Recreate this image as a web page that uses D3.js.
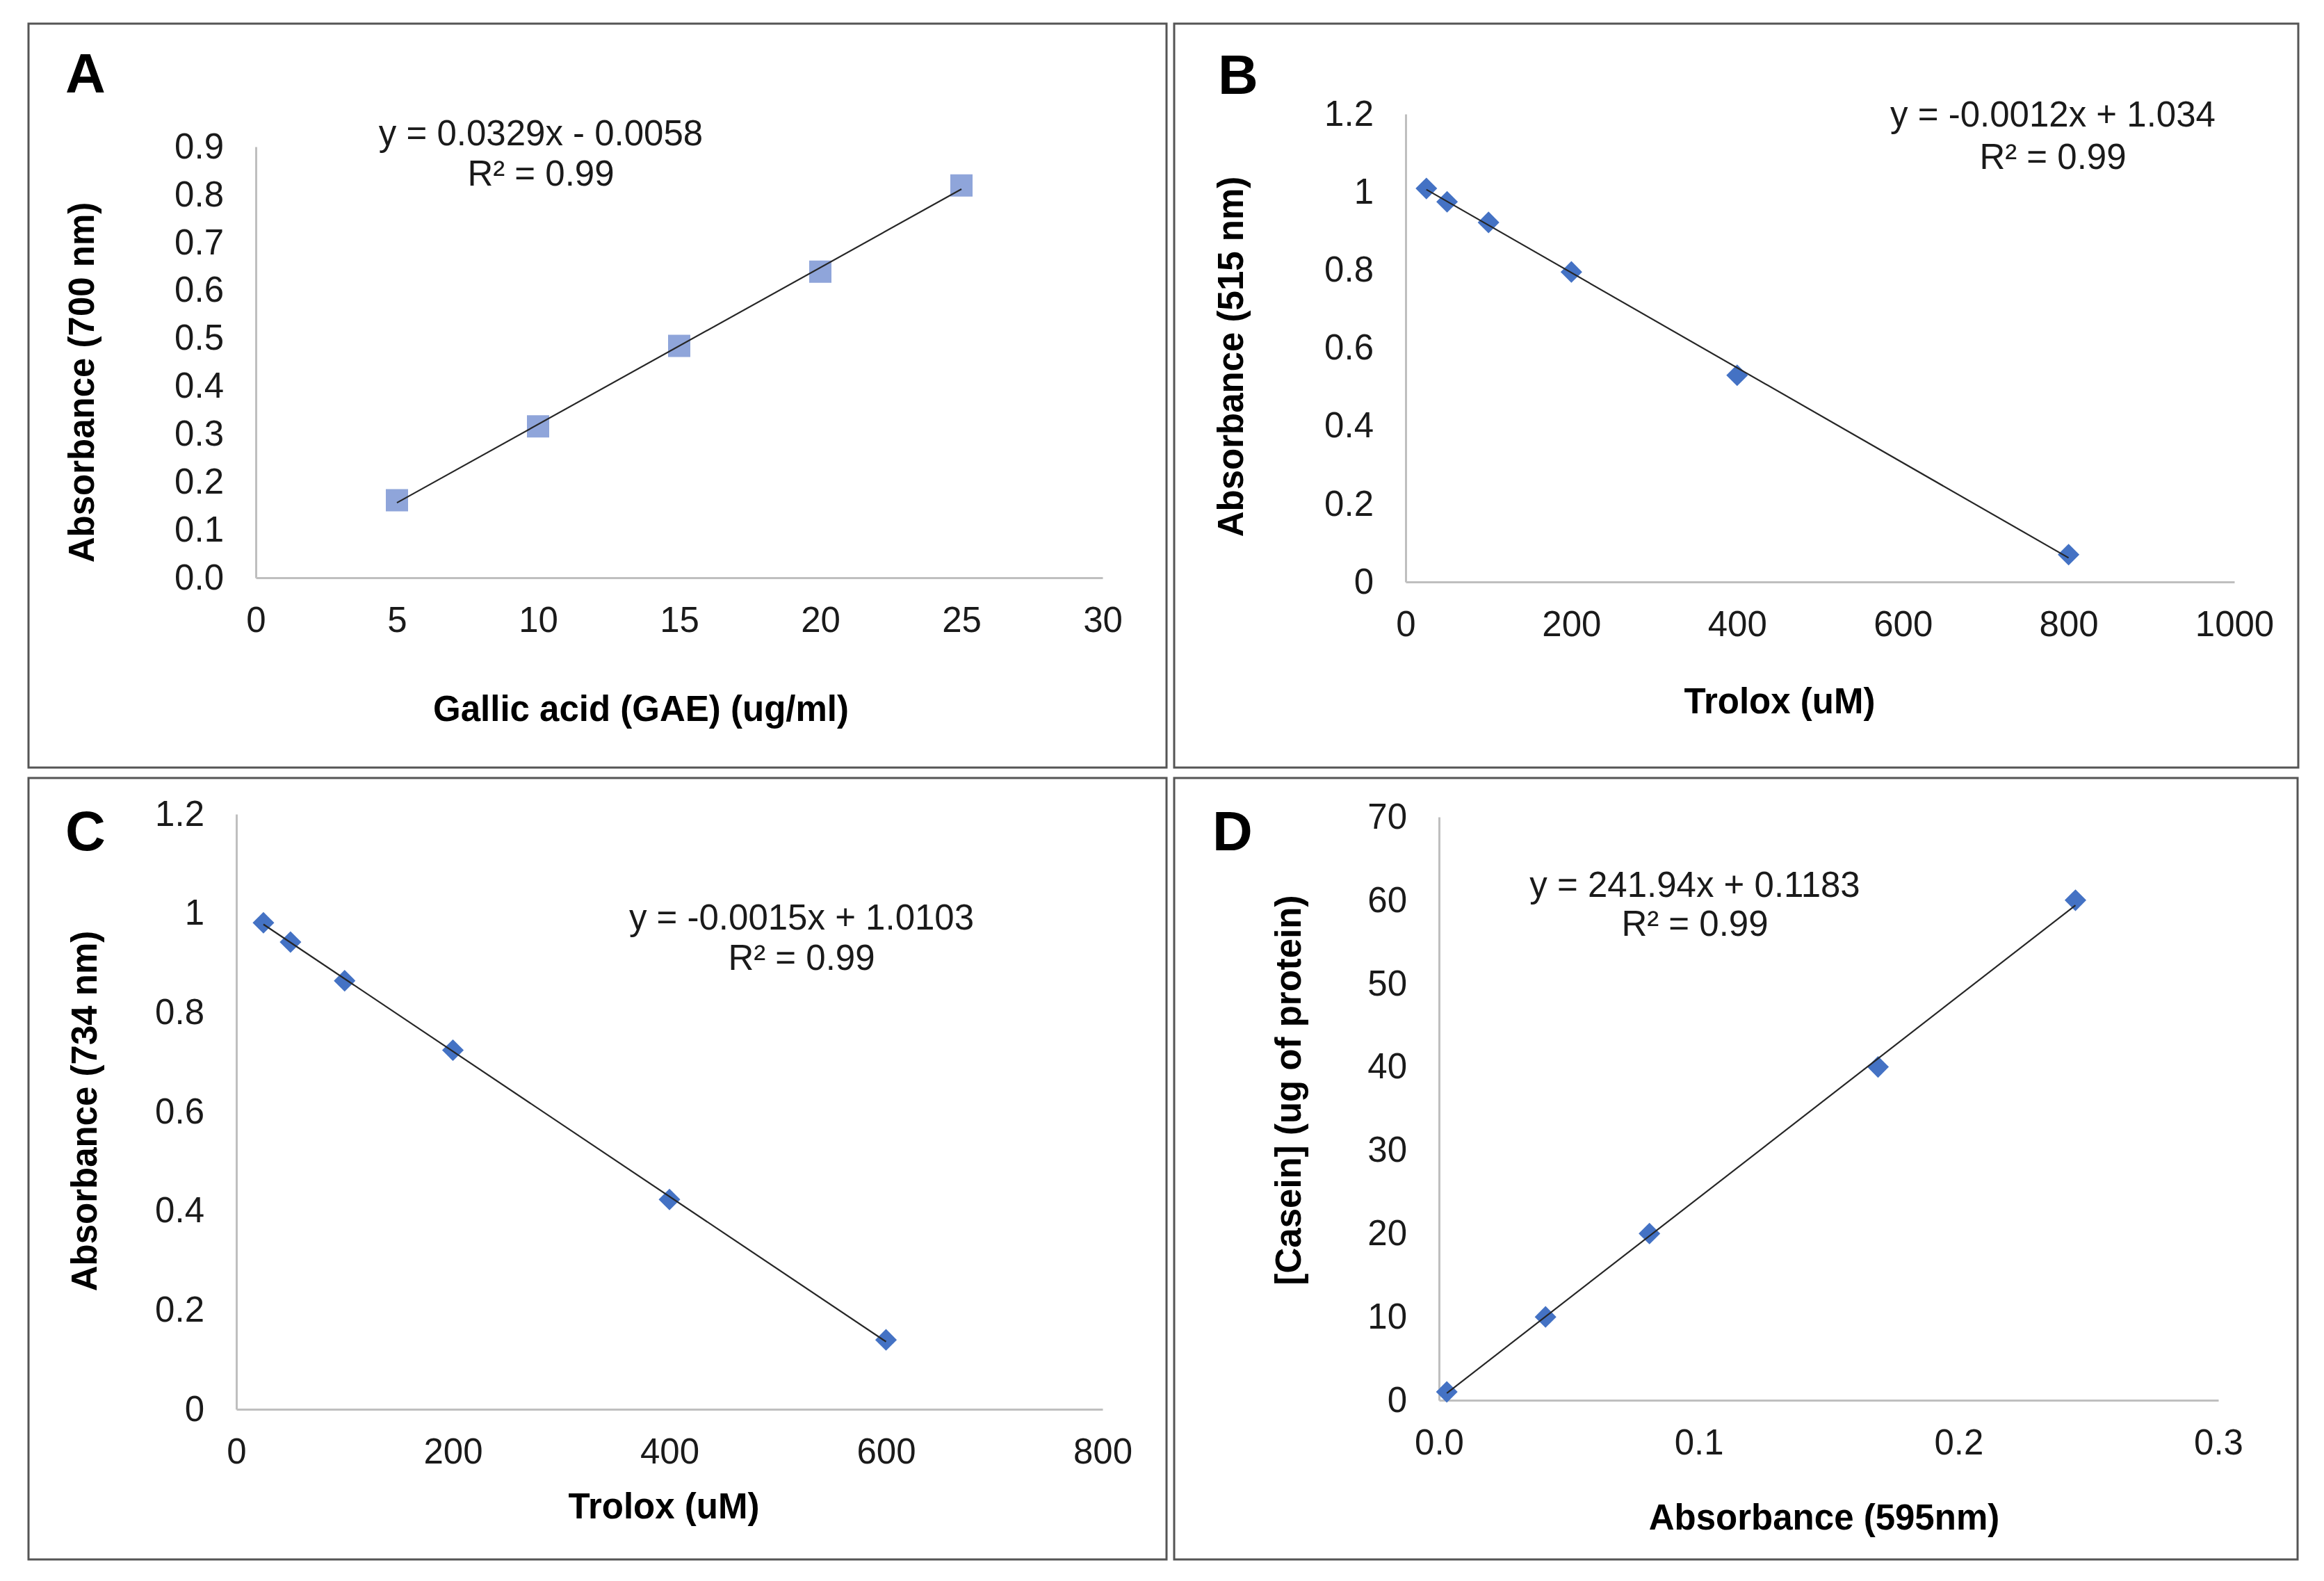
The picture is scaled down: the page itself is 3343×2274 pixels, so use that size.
<!DOCTYPE html>
<html>
<head>
<meta charset="utf-8">
<script src="https://cdn.jsdelivr.net/npm/d3@7/dist/d3.min.js"></script>
<style>
  body { margin: 0; background: #fff; }
  text { font-family: "Liberation Sans", Arial, sans-serif; }
</style>
</head>
<body>
<div id="chart-container"></div>
<script>
// A - reducing power, gallic acid standard
const gallicConc = [5, 10, 15, 20, 25];
const gallicAbs = [0.162, 0.316, 0.484, 0.639, 0.819];
const gallicTicksX = [0, 5, 10, 15, 20, 25, 30];
const gallicTicksY = [0, 0.1, 0.2, 0.3, 0.4, 0.5, 0.6, 0.7, 0.8, 0.9];

// B - DPPH, trolox standard
const dpphTrolox = [25, 50, 100, 200, 400, 800];
const dpphAbs = [1.009, 0.975, 0.922, 0.795, 0.530, 0.070];
const dpphTicksX = [0, 200, 400, 600, 800, 1000];
const dpphTicksY = [0, 0.2, 0.4, 0.6, 0.8, 1, 1.2];

// C - ABTS, trolox standard
const abtsTrolox = [25, 50, 100, 200, 400, 600];
const abtsAbs = [0.981, 0.942, 0.864, 0.724, 0.423, 0.140];
const abtsTicksX = [0, 200, 400, 600, 800];
const abtsTicksY = [0, 0.2, 0.4, 0.6, 0.8, 1, 1.2];

// D - Bradford, casein standard
const caseinAbs = [0.003, 0.041, 0.081, 0.169, 0.245];
const caseinConc = [1, 10, 20, 40, 60];
const caseinTicksX = [0, 0.1, 0.2, 0.3];
const caseinTicksY = [0, 10, 20, 30, 40, 50, 60, 70];

const equations = [
  ["y = 0.0329x - 0.0058", "R² = 0.99"],
  ["y = -0.0012x + 1.034", "R² = 0.99"],
  ["y = -0.0015x + 1.0103", "R² = 0.99"],
  ["y = 241.94x + 0.1183", "R² = 0.99"]
];
const xTitles = ["Gallic acid (GAE) (ug/ml)", "Trolox (uM)", "Trolox (uM)", "Absorbance (595nm)"];
const yTitles = ["Absorbance (700 nm)", "Absorbance (515 nm)", "Absorbance (734 nm)", "[Casein] (ug of protein)"];
const panelLabels = ["A", "B", "C", "D"];

const width = 3343, height = 2274;

const svg = d3.select("#chart-container").append("svg")
  .attr("width", width)
  .attr("height", height);

svg.append("rect").attr("width", width).attr("height", height).attr("fill", "#fff");

const panels = [
  { xs: gallicConc, ys: gallicAbs, xt: gallicTicksX, yt: gallicTicksY,
    xFmt: d3.format("d"), yFmt: d3.format(".1f"), marker: "square", color: "#8FA5DA",
    box: [41, 34, 1678, 1104], plot: { l: 368, r: 1586, t: 211, b: 831 },
    lab: [94, 133], eq: [778, 191, 249], xTitle: [922, 1037], yTitle: [117, 550] },
  { xs: dpphTrolox, ys: dpphAbs, xt: dpphTicksX, yt: dpphTicksY,
    xFmt: d3.format("d"), yFmt: d3.format(""), marker: "diamond", color: "#4472C4",
    box: [1689, 34, 3306, 1104], plot: { l: 2022, r: 3214, t: 164, b: 837 },
    lab: [1752, 135], eq: [2953, 164, 225], xTitle: [2560, 1026], yTitle: [1770, 513] },
  { xs: abtsTrolox, ys: abtsAbs, xt: abtsTicksX, yt: abtsTicksY,
    xFmt: d3.format("d"), yFmt: d3.format(""), marker: "diamond", color: "#4472C4",
    box: [41, 1119, 1678, 2243], plot: { l: 340, r: 1586, t: 1171, b: 2027 },
    lab: [94, 1223], eq: [1153, 1319, 1377], xTitle: [955, 2184], yTitle: [121, 1598] },
  { xs: caseinAbs, ys: caseinConc, xt: caseinTicksX, yt: caseinTicksY,
    xFmt: d3.format(".1f"), yFmt: d3.format("d"), marker: "diamond", color: "#4472C4",
    box: [1689, 1119, 3305, 2243], plot: { l: 2070, r: 3191, t: 1175, b: 2014 },
    lab: [1744, 1223], eq: [2438, 1272, 1328], xTitle: [2624, 2200], yTitle: [1853, 1568] }
];

// least squares line, like the excel trendline
function fit(xs, ys) {
  let mx = d3.mean(xs), my = d3.mean(ys);
  let sxy = d3.sum(xs, (x, i) => (x - mx) * (ys[i] - my));
  let sxx = d3.sum(xs, (x) => (x - mx) * (x - mx));
  let slope = sxy / sxx;
  return { slope: slope, icpt: my - slope * mx };
}

panels.forEach((p, i) => {
  let g = svg.append("g").attr("class", "panel");

  g.append("rect")
    .attr("x", p.box[0]).attr("y", p.box[1])
    .attr("width", p.box[2] - p.box[0]).attr("height", p.box[3] - p.box[1])
    .attr("fill", "none").attr("stroke", "#555").attr("stroke-width", 3);

  let xScale = d3.scaleLinear()
    .domain(d3.extent(p.xt))
    .range([p.plot.l, p.plot.r]);
  let yScale = d3.scaleLinear()
    .domain(d3.extent(p.yt))
    .range([p.plot.b, p.plot.t]);

  let xAxis = d3.axisBottom(xScale).tickValues(p.xt).tickFormat(p.xFmt)
    .tickSize(0).tickPadding(42).tickSizeOuter(0);
  let yAxis = d3.axisLeft(yScale).tickValues(p.yt).tickFormat(p.yFmt)
    .tickSize(0).tickPadding(46).tickSizeOuter(0);

  let xg = g.append("g")
    .attr("transform", "translate(0," + p.plot.b + ")")
    .call(xAxis);
  let yg = g.append("g")
    .attr("transform", "translate(" + p.plot.l + ",0)")
    .call(yAxis);

  [xg, yg].forEach((ax) => {
    ax.select(".domain").attr("stroke", "#BFBFBF").attr("stroke-width", 3);
    ax.selectAll("text")
      .attr("font-size", 51)
      .attr("fill", "#1a1a1a")
      .attr("font-family", "'Liberation Sans', Arial, sans-serif");
  });

  // markers
  let sym = p.marker == "square"
    ? d3.symbol().type(d3.symbolSquare).size(32 * 32)
    : d3.symbol().type(d3.symbolSquare).size(22 * 22);

  g.append("g").selectAll("path")
    .data(p.xs.map((x, k) => ({ x: x, y: p.ys[k] })))
    .enter().append("path")
    .attr("d", sym)
    .attr("fill", p.color)
    .attr("transform", (d) => "translate(" + xScale(d.x) + "," + yScale(d.y) + ")"
      + (p.marker == "diamond" ? " rotate(45)" : ""));

  // trendline over the data range
  let f = fit(p.xs, p.ys);
  let ext = d3.extent(p.xs);
  let line = d3.line().x((d) => xScale(d)).y((d) => yScale(f.slope * d + f.icpt));
  g.append("path")
    .datum(ext)
    .attr("d", line)
    .attr("fill", "none")
    .attr("stroke", "#262626")
    .attr("stroke-width", 2.2);

  // equation
  equations[i].forEach((t, k) => {
    g.append("text")
      .attr("x", p.eq[0]).attr("y", p.eq[1 + k])
      .attr("dy", "0.35em")
      .attr("text-anchor", "middle")
      .attr("font-size", 51)
      .attr("fill", "#1a1a1a")
      .text(t);
  });

  // titles
  g.append("text")
    .attr("x", p.xTitle[0]).attr("y", p.xTitle[1])
    .attr("text-anchor", "middle")
    .attr("font-size", 51).attr("font-weight", "bold")
    .text(xTitles[i]);

  g.append("text")
    .attr("transform", "translate(" + p.yTitle[0] + "," + p.yTitle[1] + ") rotate(-90)")
    .attr("dy", "0.35em")
    .attr("text-anchor", "middle")
    .attr("font-size", 51).attr("font-weight", "bold")
    .text(yTitles[i]);

  g.append("text")
    .attr("x", p.lab[0]).attr("y", p.lab[1])
    .attr("font-size", 80).attr("font-weight", "bold")
    .text(panelLabels[i]);
});
</script>
</body>
</html>
